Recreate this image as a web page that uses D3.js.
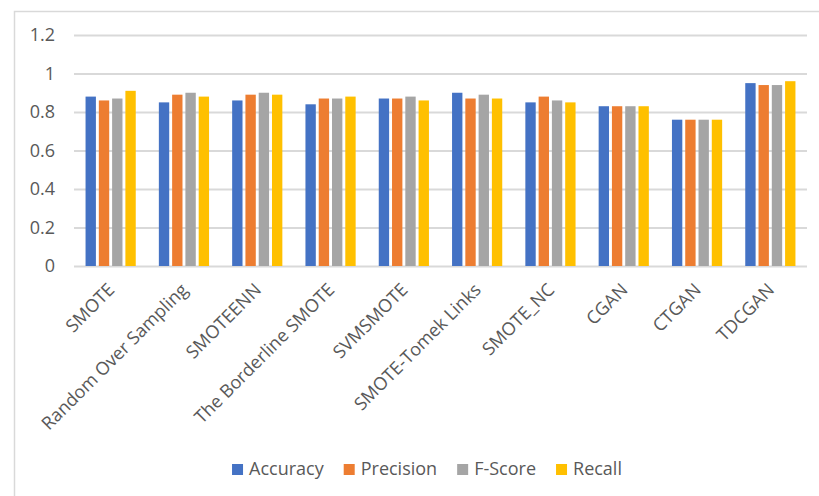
<!DOCTYPE html>
<html>
<head>
<meta charset="utf-8">
<script src="https://cdn.jsdelivr.net/npm/d3@7"></script>
<style>
  body { margin: 0; background: #fff; }
  text { font-family: "Open Sans", sans-serif; fill: #595959; }
</style>
</head>
<body>
<div class="chart"></div>
<script>
// categories and series
const methods = ["SMOTE", "Random Over Sampling", "SMOTEENN", "The Borderline SMOTE", "SVMSMOTE",
  "SMOTE-Tomek Links", "SMOTE_NC", "CGAN", "CTGAN", "TDCGAN"]
const seriesNames = ["Accuracy", "Precision", "F-Score", "Recall"]
const accuracy  = [0.88, 0.85, 0.86, 0.84, 0.87, 0.90, 0.85, 0.83, 0.76, 0.95]
const precision = [0.86, 0.89, 0.89, 0.87, 0.87, 0.87, 0.88, 0.83, 0.76, 0.94]
const fscore    = [0.87, 0.90, 0.90, 0.87, 0.88, 0.89, 0.86, 0.83, 0.76, 0.94]
const recall    = [0.91, 0.88, 0.89, 0.88, 0.86, 0.87, 0.85, 0.83, 0.76, 0.96]
const yTicks = [0, 0.2, 0.4, 0.6, 0.8, 1, 1.2]
const colors = ["#4472C4", "#ED7D31", "#A5A5A5", "#FFC000"]

const seriesValues = [accuracy, precision, fscore, recall]
const data = methods.map((m, i) => {
  const row = { method: m }
  seriesNames.forEach((s, j) => row[s] = seriesValues[j][i])
  return row
})

const W = 819, H = 496
const margin = { top: 35, right: 12, bottom: 230, left: 74 }
const width = W - margin.left - margin.right
const height = H - margin.top - margin.bottom
const fontSize = "18px"

const svg = d3.select(".chart").append("svg")
  .attr("width", W)
  .attr("height", H)

// chart area border
svg.append("rect")
  .attr("x", 14.5).attr("y", 11.5)
  .attr("width", W).attr("height", H)
  .attr("fill", "none")
  .attr("stroke", "#d9d9d9")
  .attr("stroke-width", 1.5)

const g = svg.append("g")
  .attr("transform", `translate(${margin.left},${margin.top})`)

const x0 = d3.scaleBand().domain(methods).range([0, width])
const x1 = d3.scaleBand().domain(seriesNames).range([0, x0.bandwidth()])
  .paddingInner(0.22).paddingOuter(0.87)
const yScale = d3.scaleLinear().domain([0, 1.2]).range([height, 0])
const color = d3.scaleOrdinal().domain(seriesNames).range(colors)

// gridlines + y labels
const yAxis = d3.axisLeft(yScale).tickValues(yTicks).tickSize(-width).tickPadding(19)
  .tickFormat(d => d)
g.append("g").attr("class", "y-axis").call(yAxis)
  .call(a => a.select(".domain").remove())
  .call(a => a.selectAll("line").attr("stroke", "#d9d9d9").attr("stroke-width", 2))
  .call(a => a.selectAll("text").style("font-size", fontSize).attr("fill", "#595959"))

// bars
g.append("g").selectAll("g")
  .data(data)
  .join("g")
  .attr("transform", d => `translate(${x0(d.method)},0)`)
  .selectAll("rect")
  .data(d => seriesNames.map(s => ({ key: s, value: d[s] })))
  .join("rect")
  .attr("x", d => x1(d.key))
  .attr("y", d => yScale(d.value))
  .attr("width", x1.bandwidth())
  .attr("height", d => height - yScale(d.value))
  .attr("fill", d => color(d.key))

// x labels (rotated)
const xAxis = d3.axisBottom(x0).tickSize(0).tickPadding(0)
g.append("g").attr("class", "x-axis")
  .attr("transform", `translate(0,${height})`)
  .call(xAxis)
  .call(a => a.select(".domain").remove())
  .call(a => a.selectAll("text")
    .style("font-size", fontSize)
    .attr("fill", "#595959")
    .attr("text-anchor", "end")
    .attr("dy", null).attr("y", 0)
    .attr("transform", "translate(5,25) rotate(-45)"))

// legend
const legend = svg.append("g")
const items = legend.selectAll("g").data(seriesNames).join("g")
items.append("rect")
  .attr("width", 11).attr("height", 11)
  .attr("y", -11)
  .attr("fill", d => color(d))
items.append("text")
  .attr("x", 17)
  .attr("y", 0)
  .style("font-size", fontSize)
  .text(d => d)
let offset = 0
items.each(function() {
  const w = 17 + this.querySelector("text").getComputedTextLength()
  d3.select(this).attr("transform", `translate(${offset},0)`)
  offset += w + 20
})
const legendWidth = offset - 20
legend.attr("transform", `translate(${427 - legendWidth / 2},475)`)
</script>
</body>
</html>
